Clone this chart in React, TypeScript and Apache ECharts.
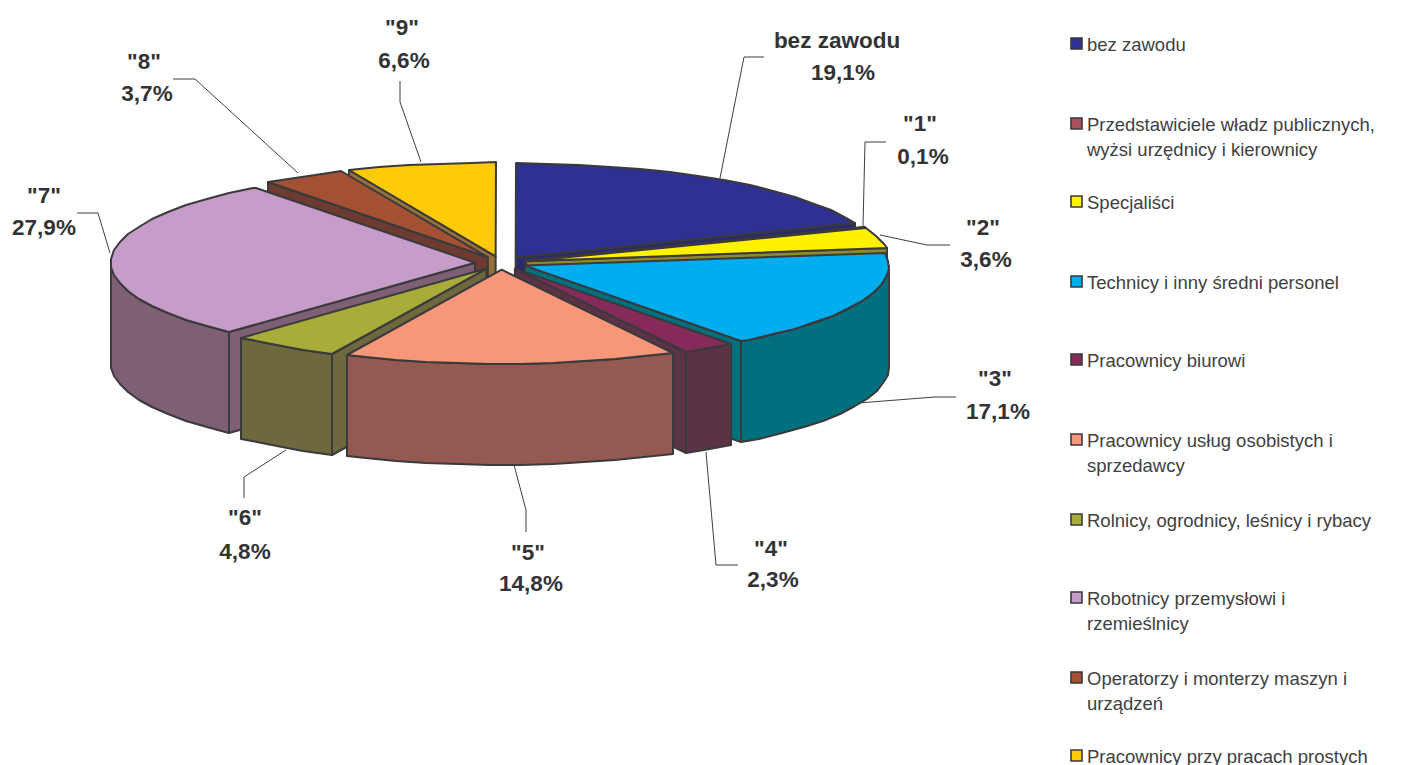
import React, { useEffect, useRef } from "react";
import * as echarts from "echarts";

const sliceLabels = ["bez zawodu", '"1"', '"2"', '"3"', '"4"', '"5"', '"6"', '"7"', '"8"', '"9"'];
const shares = [19.1, 0.1, 3.6, 17.1, 2.3, 14.8, 4.8, 27.9, 3.7, 6.6];
const legendLines = [
  ["bez zawodu"],
  ["Przedstawiciele władz publicznych,", "wyżsi urzędnicy i kierownicy"],
  ["Specjaliści"],
  ["Technicy i inny średni personel"],
  ["Pracownicy biurowi"],
  ["Pracownicy usług osobistych i", "sprzedawcy"],
  ["Rolnicy, ogrodnicy, leśnicy i rybacy"],
  ["Robotnicy przemysłowi i", "rzemieślnicy"],
  ["Operatorzy i monterzy maszyn i", "urządzeń"],
  ["Pracownicy przy pracach prostych"],
];

const topColors = ["#2E3192", "#A8505E", "#FFF200", "#00AEEF", "#862A5A", "#F7977A", "#A7AD38", "#C69CC8", "#A35132", "#FFCB08"];
const sideColors = ["#2A2A6E", "#6E3A44", "#8F8A2A", "#00707F", "#5C3247", "#945A52", "#6D683D", "#7F5F73", "#6D3B32", "#96713A"];
const paintOrder = [9, 8, 0, 1, 2, 7, 3, 4, 6, 5];

// Layout of the annotations, not data.
const legendY = [44, 124, 202, 282, 360, 440, 520, 598, 678, 756];
const nameAt = [[837, 40], [920, 123], [983, 227], [995, 378], [771, 548], [528, 552], [245, 517], [44, 195], [144, 61], [402, 27]];
const shareAt = [[843, 72], [923, 156], [986, 259], [998, 411], [773, 579], [531, 583], [245, 551], [44, 227], [147, 93], [404, 60]];
const leaders = [
  [[764, 57], [744, 57], [720, 178]],
  [[886, 142], [865, 142], [863, 226]],
  [[950, 245], [927, 245], [880, 235]],
  [[956, 397], [935, 397], [858, 403]],
  [[738, 565], [716, 565], [706, 452]],
  [[526, 532], [526, 510], [514, 465]],
  [[244, 498], [244, 477], [286, 450]],
  [[77, 213], [98, 213], [110, 253]],
  [[173, 79], [195, 79], [298, 173]],
  [[400, 81], [400, 102], [421, 162]],
];

const CX = 501, CY = 263, RX = 364, RY = 94, DEPTH = 101, EXPLODE = 26;
const LINE = "#3A3A3C";
const STEP = (5 * Math.PI) / 180;
const total = shares.reduce((a, b) => a + b, 0);
const fmt = (v: number) => v.toFixed(1).replace(".", ",") + "%";

function renderSlice(params: any, api: any) {
  const i = params.dataIndex;
  const before = shares.slice(0, i).reduce((a, b) => a + b, 0);
  const a0 = (before / total) * 2 * Math.PI;
  const a1 = ((before + Number(api.value(0))) / total) * 2 * Math.PI;
  const mid = (a0 + a1) / 2;
  const vx = CX + EXPLODE * Math.sin(mid);
  const vy = CY - EXPLODE * (RY / RX) * Math.cos(mid);
  const rim = (t: number, d = 0) => [Math.round(vx + RX * Math.sin(t)), Math.round(vy - RY * Math.cos(t) + d)];
  const arc = (from: number, to: number, d = 0) => {
    const pts: number[][] = [];
    for (let t = from; t < to; t += STEP) pts.push(rim(t, d));
    pts.push(rim(to, d));
    return pts;
  };
  const z = paintOrder.indexOf(i) * 10;
  const style = (fill: string) => ({ fill, stroke: LINE, lineWidth: 2, lineJoin: "round" });
  const children: any[] = [];
  const wall = (t: number, k: number) => {
    const e = rim(t);
    const f = rim(t, DEPTH);
    children.push({
      type: "polygon",
      z2: z + k,
      shape: { points: [[vx, vy], e, f, [vx, vy + DEPTH]] },
      style: style(sideColors[i]),
    });
  };
  if (Math.sin(a0) < -1e-6) wall(a0, 1);
  if (Math.sin(a1) > 1e-6) wall(a1, 1);
  const s = Math.max(a0, Math.PI / 2);
  const e = Math.min(a1, (3 * Math.PI) / 2);
  if (s < e) {
    children.push({
      type: "polygon",
      z2: z + 2,
      shape: { points: [...arc(s, e), ...arc(s, e, DEPTH).reverse()] },
      style: style(sideColors[i]),
    });
  }
  children.push({
    type: "polygon",
    z2: z + 3,
    shape: { points: [[vx, vy], ...arc(a0, a1)] },
    style: style(topColors[i]),
  });
  return { type: "group", children };
}

function annotations() {
  const out: any[] = [];
  const LABEL = { fill: "#333336", fontFamily: "Liberation Sans", fontWeight: "bold", fontSize: 22.5, align: "center", verticalAlign: "middle" };
  const LEGEND = { fill: "#404042", fontFamily: "Liberation Sans", fontSize: 18.5, align: "left", verticalAlign: "middle" };
  shares.forEach((v, i) => {
    out.push({ type: "polyline", silent: true, z: 5, shape: { points: leaders[i] }, style: { fill: "none", stroke: "#3F3F3F", lineWidth: 1 } });
    out.push({ type: "text", x: nameAt[i][0], y: nameAt[i][1], style: { ...LABEL, text: sliceLabels[i] } });
    out.push({ type: "text", x: shareAt[i][0], y: shareAt[i][1], style: { ...LABEL, text: fmt(v) } });
    out.push({
      type: "rect",
      shape: { x: 1071, y: legendY[i] - 6, width: 11, height: 11 },
      style: { fill: topColors[i], stroke: LINE, lineWidth: 1.6 },
    });
    legendLines[i].forEach((t, k) => {
      out.push({ type: "text", x: 1087, y: legendY[i] + k * 25, style: { ...LEGEND, text: t } });
    });
  });
  return out;
}

export default function App() {
  const ref = useRef<HTMLDivElement>(null);
  useEffect(() => {
    const chart = echarts.init(ref.current!, undefined, { renderer: "svg" });
    chart.setOption({
      animation: false,
      backgroundColor: "#ffffff",
      graphic: { elements: annotations() },
      series: [
        {
          type: "custom",
          coordinateSystem: "none",
          silent: true,
          renderItem: renderSlice,
          data: shares.map((v, i) => ({ name: sliceLabels[i], value: [v] })),
        },
      ],
    });
    return () => chart.dispose();
  }, []);
  return <div ref={ref} style={{ position: "absolute", left: 0, top: 0, width: 1405, height: 765 }} />;
}
